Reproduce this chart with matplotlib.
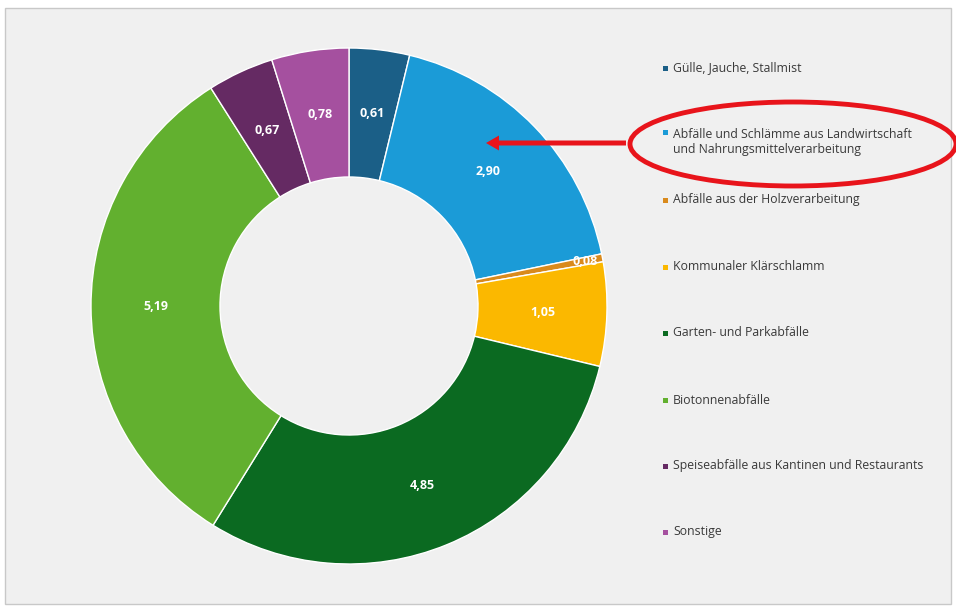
import matplotlib
matplotlib.use("Agg")
import matplotlib.pyplot as plt
import numpy as np
from matplotlib.patches import Ellipse, Rectangle, FancyArrow

labels = ["Gülle, Jauche, Stallmist",
          "Abfälle und Schlämme aus Landwirtschaft\nund Nahrungsmittelverarbeitung",
          "Abfälle aus der Holzverarbeitung",
          "Kommunaler Klärschlamm",
          "Garten- und Parkabfälle",
          "Biotonnenabfälle",
          "Speiseabfälle aus Kantinen und Restaurants",
          "Sonstige"]
values = [0.61, 2.90, 0.08, 1.05, 4.85, 5.19, 0.67, 0.78]
colors = ["#1b5f87", "#1b9bd7", "#d98a1c", "#fbb800",
          "#0b6a21", "#62b02f", "#652a63", "#a5509f"]

W, H = 956, 608
fig = plt.figure(figsize=(W / 100, H / 100), dpi=100, facecolor="white")

# grey chart area with a thin border (pixel coords)
bg = fig.add_axes([0, 0, 1, 1])
bg.set_xlim(0, W)
bg.set_ylim(H, 0)
bg.axis("off")
bg.add_patch(Rectangle((5, 8), 946, 596, facecolor="#f0f0f0",
                       edgecolor="#c8c8c8", lw=1))

# donut: centre (349, 306) px, outer radius 258 px
cx, cy, r = 349, 306, 258
ax = fig.add_axes([(cx - r) / W, (H - cy - r) / H, 2 * r / W, 2 * r / H])
wedges, _ = ax.pie(values, colors=colors, startangle=90, counterclock=False,
                   radius=1, wedgeprops=dict(width=0.5, edgecolor="white", linewidth=1))
ax.set_xlim(-1, 1)
ax.set_ylim(-1, 1)
ax.set_facecolor("none")

for w, v in zip(wedges, values):
    ang = np.deg2rad((w.theta1 + w.theta2) / 2)
    d = 0.93 if v < 0.3 else 0.75
    ax.text(d * np.cos(ang), d * np.sin(ang), f"{v:.2f}".replace(".", ","),
            ha="center", va="center", color="white", fontsize=9,
            fontweight="bold", family="Open Sans")

# overlay for legend and highlight, drawn above the donut
top = fig.add_axes([0, 0, 1, 1])
top.set_xlim(0, W)
top.set_ylim(H, 0)
top.axis("off")
top.patch.set_visible(False)

ys = [68, 142, 200, 267, 333, 400, 466, 532]
for lab, col, y in zip(labels, colors, ys):
    off = -9.5 if "\n" in lab else 0
    top.add_patch(Rectangle((663, y + off - 2.5), 5, 5, facecolor=col, edgecolor="none"))
    top.text(673, y, lab, ha="left", va="center", fontsize=8.8,
             color="#3a3a3a", family="Open Sans", linespacing=1.3)

top.add_patch(Ellipse((793, 144), 326, 84, fill=False, edgecolor="#e8141b", lw=3.5))
top.add_patch(FancyArrow(626, 143, -140, 0, width=5, head_width=15, head_length=13,
                         length_includes_head=True, color="#e8141b", lw=0))

fig.savefig("out.png", dpi=100, facecolor=fig.get_facecolor())
